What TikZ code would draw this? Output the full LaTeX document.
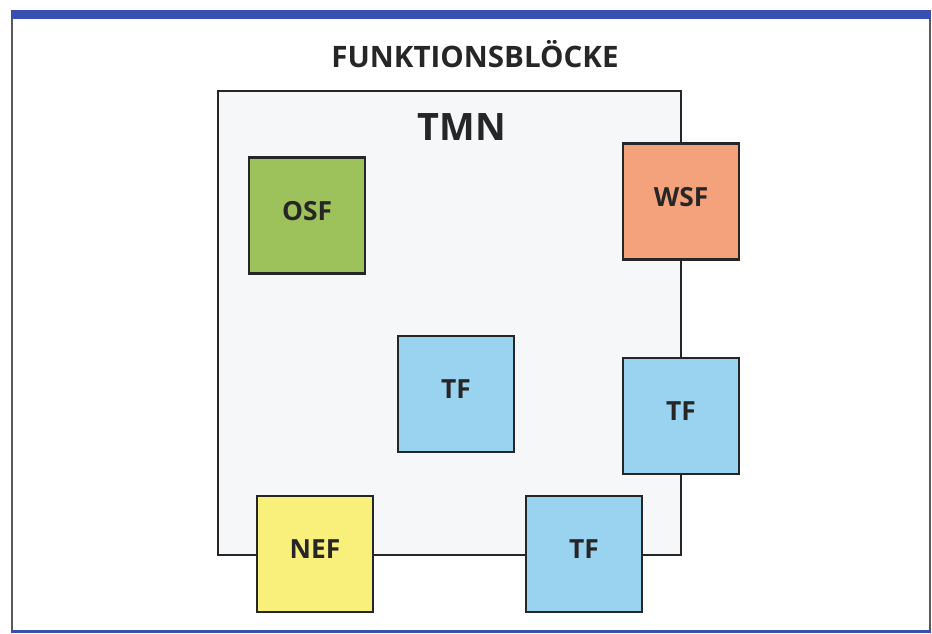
\documentclass[tikz,border=0pt]{standalone}
\usepackage{fontspec}
\setmainfont{Open Sans}
\definecolor{bandblue}{HTML}{3850B0}
\definecolor{inkgray}{HTML}{262626}
\definecolor{tmnfill}{HTML}{F6F7F9}
\definecolor{osfgreen}{HTML}{9DC25C}
\definecolor{wsforange}{HTML}{F4A27C}
\definecolor{tfblue}{HTML}{9AD3F0}
\definecolor{nefyellow}{HTML}{F9F07C}
\tikzset{
    fblock/.style={draw=inkgray, line width=1.3pt, minimum width=2.32cm, minimum height=2.32cm,
        inner sep=0pt, text depth=0.2cm, font=\fontsize{15}{18}\selectfont\bfseries, text=inkgray},
}

\begin{document}
\begin{tikzpicture}[x=0.02cm, y=-0.02cm]
    \useasboundingbox (0,0) rectangle (932,633);
    \fill[white] (0,0) rectangle (932,633);

    % Frame
    \draw[gray!70!black, line width=0.6pt] (12,14) -- (12,631) (930,14) -- (930,631);
    \fill[bandblue] (11,10) rectangle (931,19);
    \fill[bandblue] (11,630) rectangle (931,632.5);

    % Title
    \node[font=\fontsize{16.8}{20}\selectfont\bfseries, text=inkgray] (title) at (475,54) {FUNKTIONSBLÖCKE};

    % TMN area
    \node[draw=inkgray, fill=tmnfill, line width=1.3pt, minimum width=9.26cm, minimum height=9.28cm,
        inner sep=0pt] (tmn) at (449.5,323) {};
    \node[font=\fontsize{21.5}{25}\selectfont\bfseries, text=inkgray] (tmnlabel) at (462,127) {TMN};

    % Function blocks
    \node[fblock, fill=osfgreen] (osf) at (307,215.5) {OSF};
    \node[fblock, fill=wsforange] (wsf) at (681,201.5) {WSF};
    \node[fblock, fill=tfblue] (tf-1) at (456,394) {TF};
    \node[fblock, fill=tfblue] (tf-2) at (681,416) {TF};
    \node[fblock, fill=nefyellow] (nef) at (315,554) {NEF};
    \node[fblock, fill=tfblue] (tf-3) at (584,554) {TF};
\end{tikzpicture}
\end{document}
